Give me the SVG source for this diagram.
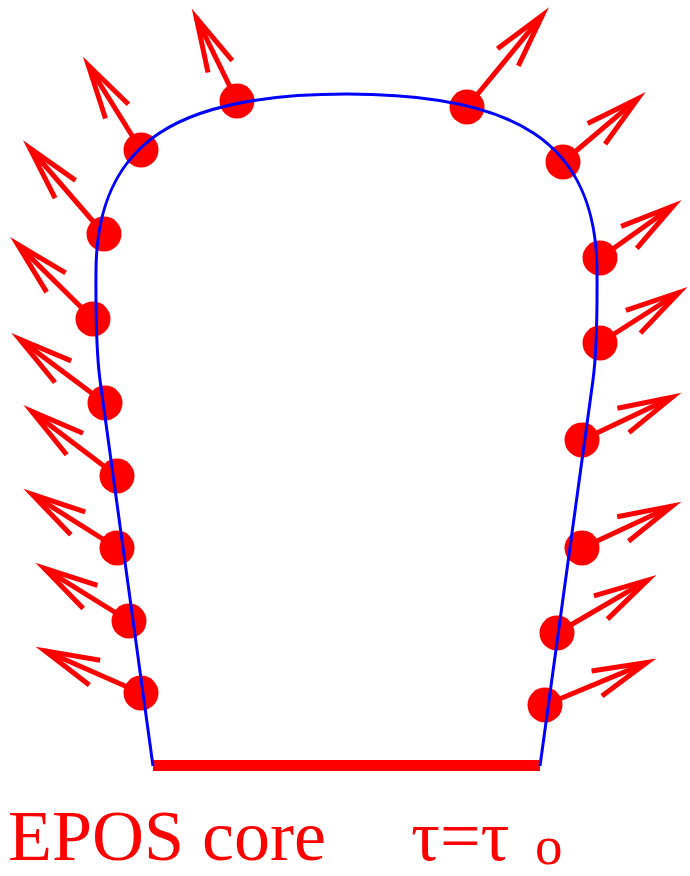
<svg xmlns="http://www.w3.org/2000/svg" width="690" height="876" viewBox="0 0 690 876">
<style>
.shaft{stroke:#ff0000;stroke-width:5;fill:none;marker-end:url(#head)}
.dot{fill:#ff0000}
.surface{stroke:#0000ff;stroke-width:3;fill:none}
.lbl{font-family:"Liberation Serif","Times New Roman",serif;fill:#ff0000}
</style>
<defs>
<marker id="head" markerUnits="userSpaceOnUse" orient="auto" markerWidth="1" markerHeight="1" refX="0" refY="0" overflow="visible">
<path d="M-54.3,-13.5 L0,0 L-54.3,13.5" fill="none" stroke="#ff0000" stroke-width="5" stroke-miterlimit="10"/>
</marker>
</defs>
<rect width="690" height="876" fill="#ffffff"/>
<g id="particles">
<g id="pL1"><circle class="dot" cx="237" cy="101" r="17.5"/><line class="shaft" x1="237" y1="101" x2="196.3" y2="17.8"/></g>
<g id="pL2"><circle class="dot" cx="141" cy="150" r="17.5"/><line class="shaft" x1="141" y1="150" x2="88.3" y2="65.2"/></g>
<g id="pL3"><circle class="dot" cx="104" cy="234" r="17.5"/><line class="shaft" x1="104" y1="234" x2="29.8" y2="148.1"/></g>
<g id="pL4"><circle class="dot" cx="93" cy="319" r="17.5"/><line class="shaft" x1="93" y1="319" x2="17.5" y2="244.4"/></g>
<g id="pL5"><circle class="dot" cx="105" cy="403" r="17.5"/><line class="shaft" x1="105" y1="403" x2="19.6" y2="339.2"/></g>
<g id="pL6"><circle class="dot" cx="117" cy="476" r="17.5"/><line class="shaft" x1="117" y1="476" x2="31.6" y2="411.2"/></g>
<g id="pL7"><circle class="dot" cx="117" cy="548" r="17.5"/><line class="shaft" x1="117" y1="548" x2="32.1" y2="494.4"/></g>
<g id="pL8"><circle class="dot" cx="129" cy="621" r="17.5"/><line class="shaft" x1="129" y1="621" x2="44.2" y2="568.3"/></g>
<g id="pL9"><circle class="dot" cx="141" cy="693" r="17.5"/><line class="shaft" x1="141" y1="693" x2="45" y2="650.8"/></g>
<g id="pR1"><circle class="dot" cx="467" cy="107" r="17.5"/><line class="shaft" x1="467" y1="107" x2="542.4" y2="15.3"/></g>
<g id="pR2"><circle class="dot" cx="563" cy="162" r="17.5"/><line class="shaft" x1="563" y1="162" x2="637.8" y2="98.7"/></g>
<g id="pR3"><circle class="dot" cx="600" cy="258" r="17.5"/><line class="shaft" x1="600" y1="258" x2="673.2" y2="206"/></g>
<g id="pR4"><circle class="dot" cx="600" cy="343" r="17.5"/><line class="shaft" x1="600" y1="343" x2="678.9" y2="292.5"/></g>
<g id="pR5"><circle class="dot" cx="582" cy="440" r="17.5"/><line class="shaft" x1="582" y1="440" x2="672.2" y2="397.2"/></g>
<g id="pR6"><circle class="dot" cx="582" cy="548" r="17.5"/><line class="shaft" x1="582" y1="548" x2="672.1" y2="506.1"/></g>
<g id="pR7"><circle class="dot" cx="557" cy="633" r="17.5"/><line class="shaft" x1="557" y1="633" x2="647.6" y2="580.1"/></g>
<g id="pR8"><circle class="dot" cx="545" cy="705" r="17.5"/><line class="shaft" x1="545" y1="705" x2="646.9" y2="662.6"/></g>
</g>
<g id="core">
<rect x="153" y="760" width="387" height="11" fill="#ff0000"/>
</g>
<g id="surface">
<path class="surface" d="M153,766 L100,380 C96.5,354 95.7,310 96,270 C97,140 180,94 346.5,94 C513,94 596,140 597,270 C597.3,310 596.5,354 593,380 L540,766"/>
</g>
<g id="labels">
<text class="lbl" x="8" y="860" font-size="72">EPOS core</text>
<text class="lbl" x="411" y="860" font-size="72">τ=τ</text>
<text class="lbl" x="535" y="864" font-size="55">o</text>
</g>
</svg>
